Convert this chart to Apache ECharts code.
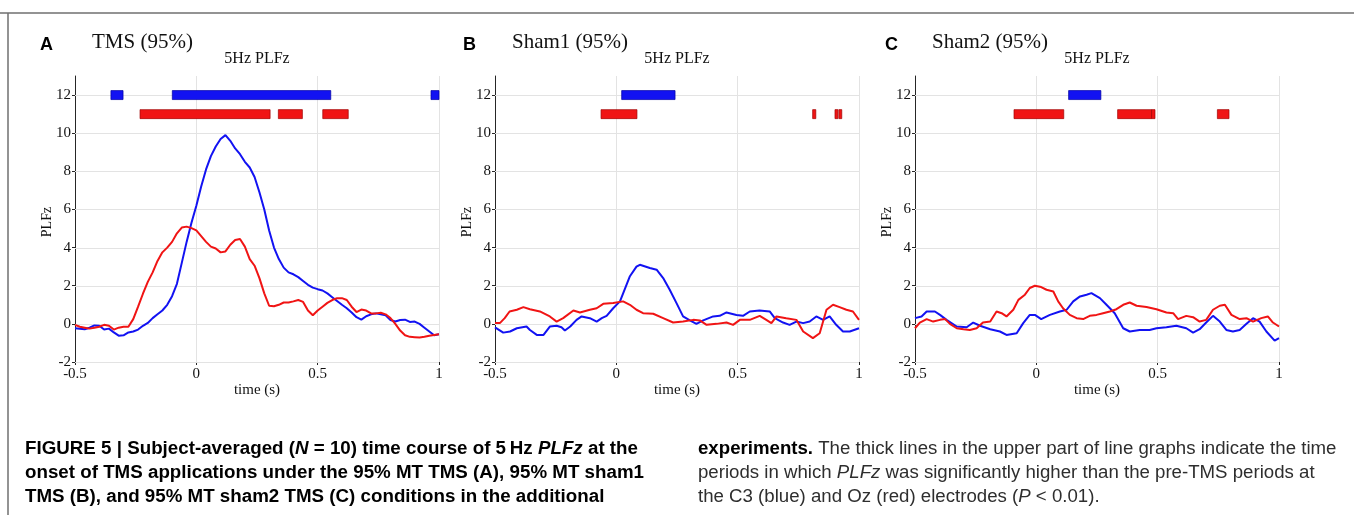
<!DOCTYPE html>
<html>
<head>
<meta charset="utf-8">
<title>5Hz PLFz time course</title>
<script src="https://cdn.jsdelivr.net/npm/echarts@6/dist/echarts.min.js"></script>
<style>
  html, body { margin: 0; padding: 0; background: #fff; }
  #chart { width: 1354px; height: 515px; }
</style>
</head>
<body>
<div id="chart"></div>
<script>
// ---- Data -------------------------------------------------------------
// Shared time axis (s) for the TMS panel
const timeTMS = [-0.5,-0.48,-0.46,-0.44,-0.42,-0.4,-0.38,-0.36,-0.34,-0.32,
  -0.3,-0.28,-0.26,-0.24,-0.22,-0.2,-0.18,-0.16,-0.14,-0.12,
  -0.1,-0.08,-0.06,-0.04,-0.02,0,0.02,0.04,0.06,0.08,
  0.1,0.12,0.14,0.16,0.18,0.2,0.22,0.24,0.26,0.28,
  0.3,0.32,0.34,0.36,0.38,0.4,0.42,0.44,0.46,0.48,
  0.5,0.52,0.54,0.56,0.58,0.6,0.62,0.64,0.66,0.68,
  0.7,0.72,0.74,0.76,0.78,0.8,0.82,0.84,0.86,0.88,
  0.9,0.92,0.94,0.96,0.98,1];

// TMS (95%): PLFz at C3 (blue) and Oz (red)
const tmsC3 = [-0.23,-0.25,-0.28,-0.2,-0.08,-0.1,-0.3,-0.25,-0.45,-0.62,
  -0.6,-0.45,-0.4,-0.3,-0.1,0.05,0.3,0.5,0.7,1.0,
  1.45,2.1,3.2,4.3,5.3,6.2,7.2,8.1,8.8,9.3,
  9.7,9.9,9.6,9.2,8.9,8.5,8.2,7.7,6.9,6.0,
  4.9,4.0,3.4,2.95,2.7,2.6,2.45,2.25,2.05,1.9,
  1.82,1.75,1.6,1.4,1.2,1.0,0.82,0.6,0.35,0.22,
  0.4,0.5,0.55,0.5,0.45,0.2,0.12,0.2,0.22,0.1,
  0.12,0.0,-0.2,-0.4,-0.6,-0.55];
const tmsOz = [-0.05,-0.15,-0.2,-0.25,-0.2,-0.15,-0.05,-0.1,-0.3,-0.2,
  -0.15,-0.15,0.25,0.9,1.58,2.2,2.7,3.3,3.75,4.0,
  4.3,4.75,5.05,5.1,5.02,4.9,4.6,4.3,4.05,3.95,
  3.75,3.8,4.15,4.4,4.45,4.05,3.4,3.05,2.4,1.6,
  0.95,0.92,1.0,1.12,1.12,1.18,1.25,1.15,0.7,0.45,
  0.7,0.9,1.1,1.25,1.35,1.35,1.25,0.9,0.62,0.75,
  0.7,0.55,0.55,0.58,0.5,0.3,0.0,-0.35,-0.6,-0.68,
  -0.7,-0.72,-0.68,-0.62,-0.58,-0.55];

// Sham1 (95%): [time, PLFz]
const sham1C3 = [[-0.5,-0.18],[-0.466,-0.46],[-0.438,-0.4],[-0.41,-0.23],[-0.37,-0.14],[-0.356,-0.32],
  [-0.328,-0.58],[-0.3,-0.58],[-0.274,-0.14],[-0.246,-0.1],[-0.226,-0.18],[-0.212,-0.35],[-0.19,-0.14],
  [-0.164,0.21],[-0.143,0.39],[-0.109,0.3],[-0.081,0.12],[-0.06,0.3],[-0.04,0.42],[-0.013,0.82],
  [0.015,1.18],[0.028,1.6],[0.056,2.5],[0.083,3.0],[0.097,3.1],[0.138,2.93],[0.166,2.84],[0.193,2.4],
  [0.22,1.79],[0.248,1.09],[0.275,0.39],[0.303,0.18],[0.33,0],[0.358,0.18],[0.399,0.39],[0.426,0.42],
  [0.454,0.6],[0.495,0.47],[0.522,0.42],[0.55,0.65],[0.59,0.7],[0.632,0.65],[0.653,0.3],[0.687,0.07],
  [0.714,-0.05],[0.742,0.12],[0.77,0.04],[0.797,0.12],[0.824,0.39],[0.852,0.21],[0.879,0.39],
  [0.906,-0.05],[0.934,-0.4],[0.962,-0.4],[1.0,-0.23]];
const sham1Oz = [[-0.5,0.04],[-0.48,0.04],[-0.46,0.3],[-0.44,0.65],[-0.41,0.74],[-0.383,0.88],[-0.356,0.77],
  [-0.315,0.65],[-0.274,0.39],[-0.246,0.12],[-0.219,0.3],[-0.177,0.7],[-0.15,0.6],[-0.109,0.74],
  [-0.081,0.82],[-0.054,1.05],[-0.013,1.09],[0.028,1.18],[0.056,1.0],[0.083,0.74],[0.11,0.56],
  [0.152,0.53],[0.193,0.3],[0.234,0.07],[0.275,0.12],[0.317,0.21],[0.344,0.18],[0.372,-0.05],
  [0.413,0],[0.454,0.07],[0.481,-0.05],[0.509,0.21],[0.55,0.21],[0.591,0.42],[0.618,0.21],[0.639,0.04],
  [0.66,0.39],[0.7,0.3],[0.742,0.21],[0.77,-0.4],[0.81,-0.75],[0.838,-0.49],[0.866,0.74],[0.893,1.0],
  [0.92,0.88],[0.948,0.74],[0.975,0.65],[1.0,0.21]];

// Sham2 (95%): [time, PLFz]
const sham2C3 = [[-0.5,0.3],[-0.473,0.39],[-0.452,0.65],[-0.418,0.65],[-0.397,0.47],[-0.37,0.21],
  [-0.328,-0.14],[-0.287,-0.18],[-0.26,0.07],[-0.232,-0.1],[-0.19,-0.28],[-0.15,-0.4],[-0.123,-0.58],
  [-0.081,-0.49],[-0.054,0.04],[-0.027,0.47],[-0.006,0.47],[0.02,0.25],[0.056,0.47],[0.097,0.65],
  [0.125,0.74],[0.152,1.18],[0.18,1.44],[0.207,1.53],[0.227,1.61],[0.262,1.35],[0.289,1.0],[0.323,0.56],
  [0.358,-0.23],[0.385,-0.4],[0.426,-0.32],[0.467,-0.32],[0.495,-0.23],[0.536,-0.18],[0.577,-0.1],
  [0.618,-0.23],[0.646,-0.46],[0.673,-0.28],[0.7,0.07],[0.728,0.42],[0.756,0.12],[0.783,-0.32],
  [0.81,-0.4],[0.838,-0.32],[0.866,0],[0.893,0.3],[0.92,0.12],[0.948,-0.4],[0.982,-0.88],[1.0,-0.75]];
const sham2Oz = [[-0.5,-0.23],[-0.48,0.07],[-0.452,0.25],[-0.425,0.12],[-0.397,0.21],[-0.376,0.25],
  [-0.356,0],[-0.328,-0.23],[-0.3,-0.28],[-0.274,-0.32],[-0.246,-0.23],[-0.22,0.07],[-0.19,0.12],
  [-0.164,0.65],[-0.143,0.56],[-0.123,0.39],[-0.095,0.74],[-0.074,1.26],[-0.047,1.53],[-0.027,1.88],
  [-0.006,2.0],[0.02,1.93],[0.042,1.79],[0.07,1.7],[0.09,1.18],[0.11,0.82],[0.138,0.47],[0.166,0.3],
  [0.193,0.25],[0.22,0.42],[0.248,0.47],[0.275,0.56],[0.303,0.65],[0.33,0.77],[0.358,1.0],[0.385,1.12],
  [0.413,0.95],[0.454,0.88],[0.495,0.77],[0.536,0.6],[0.564,0.56],[0.584,0.25],[0.618,0.42],
  [0.646,0.35],[0.673,0.12],[0.7,0.21],[0.728,0.74],[0.756,0.95],[0.777,1.0],[0.804,0.47],[0.838,0.25],
  [0.866,0.3],[0.893,0.12],[0.927,0.3],[0.954,0.39],[0.975,0.07],[1.0,-0.14]];

// Significant periods [start, end] (s): C3 drawn at PLFz = 12, Oz at PLFz = 11
const sigTMS_C3 = [[-0.352,-0.302],[-0.099,0.554],[0.967,1.0]];
const sigTMS_Oz = [[-0.232,0.304],[0.338,0.437],[0.521,0.626]];
const sigSham1_C3 = [[0.022,0.242]];
const sigSham1_Oz = [[-0.063,0.085],[0.809,0.822],[0.901,0.913],[0.917,0.929]];
const sigSham2_C3 = [[0.133,0.266]];
const sigSham2_Oz = [[-0.092,0.113],[0.335,0.475],[0.475,0.489],[0.746,0.794]];
const levelC3 = 12;
const levelOz = 11;

// Axis ticks
const yTicks = [-2, 0, 2, 4, 6, 8, 10, 12];
const xTicksStep = 0.5;

// Panel labels
const panelLetters = ['A', 'B', 'C'];
const panelTitles = ['TMS (95%)', 'Sham1 (95%)', 'Sham2 (95%)'];
const panelSubtitle = '5Hz PLFz';
const yName = 'PLFz';
const xName = 'time (s)';

// Caption lines: segments with [text, bold, italic]
const captionLeft = [
  [['FIGURE 5 | Subject-averaged (', 1, 0], ['N', 1, 1], [' = 10) time course of 5\u2009Hz ', 1, 0], ['PLFz', 1, 1], [' at the', 1, 0]],
  [['onset of TMS applications under the 95% MT TMS (A), 95% MT sham1', 1, 0]],
  [['TMS (B), and 95% MT sham2 TMS (C) conditions in the additional', 1, 0]]
];
const captionRight = [
  [['experiments.', 1, 0], [' The thick lines in the upper part of line graphs indicate the time', 0, 0]],
  [['periods in which ', 0, 0], ['PLFz', 0, 1], [' was significantly higher than the pre-TMS periods at', 0, 0]],
  [['the C3 (blue) and Oz (red) electrodes (', 0, 0], ['P', 0, 1], [' < 0.01).', 0, 0]]
];

// ---- Layout -----------------------------------------------------------
const gridLefts = [75, 495, 915];
const gridTop = 76, gridW = 364, gridH = 286;
const BLUE = '#1212f2', RED = '#f01414';
const GRID_COLOR = '#e3e3e3', AXIS_COLOR = '#262626';
const SERIF = "'Liberation Serif', 'Times New Roman', serif";
const SANS = "'Liberation Sans', Arial, Helvetica, sans-serif";

const panels = [
  { line: [timeTMS.map((t, i) => [t, tmsC3[i]]), timeTMS.map((t, i) => [t, tmsOz[i]])], sig: [sigTMS_C3, sigTMS_Oz] },
  { line: [sham1C3, sham1Oz], sig: [sigSham1_C3, sigSham1_Oz] },
  { line: [sham2C3, sham2Oz], sig: [sigSham2_C3, sigSham2_Oz] }
];

const chart = echarts.init(document.getElementById('chart'), null, { renderer: 'canvas' });

const grids = [], xAxes = [], yAxes = [], series = [], graphics = [];

panels.forEach((p, i) => {
  grids.push({ left: gridLefts[i], top: gridTop, width: gridW, height: gridH, outerBoundsMode: 'none', containLabel: false });
  xAxes.push({
    gridIndex: i, type: 'value', min: -0.5, max: 1, interval: xTicksStep,
    axisLine: { show: true, onZero: false, lineStyle: { color: AXIS_COLOR, width: 1 } },
    axisTick: { show: true, inside: false, length: 3, lineStyle: { color: AXIS_COLOR } },
    axisLabel: { color: '#111', fontFamily: SERIF, fontSize: 15, margin: 5 },
    splitLine: { show: true, lineStyle: { color: GRID_COLOR, width: 1 } }
  });
  yAxes.push({
    gridIndex: i, type: 'value', min: -2, max: 13, interval: 2,
    axisLine: { show: true, onZero: false, lineStyle: { color: AXIS_COLOR, width: 1 } },
    axisTick: { show: true, inside: false, length: 3, customValues: yTicks, lineStyle: { color: AXIS_COLOR } },
    axisLabel: { color: '#111', fontFamily: SERIF, fontSize: 15, margin: 4, customValues: yTicks },
    splitLine: { show: false }
  });

  // Horizontal grid lines at the labelled ticks only
  series.push({
    type: 'custom', xAxisIndex: i, yAxisIndex: i, z: 1, silent: true,
    data: yTicks.map(v => [0, v]),
    renderItem: (params, api) => {
      const cs = params.coordSys;
      const y = Math.round(api.coord([0, api.value(1)])[1]) + 0.5;
      return { type: 'line', shape: { x1: cs.x, y1: y, x2: cs.x + cs.width, y2: y },
        style: { stroke: GRID_COLOR, lineWidth: 1 } };
    }
  });

  // Significance bars
  [[p.sig[0], levelC3, BLUE, '#0000a0'], [p.sig[1], levelOz, RED, '#a00000']].forEach(([arr, level, fill, edge]) => {
    series.push({
      type: 'custom', xAxisIndex: i, yAxisIndex: i, z: 3, silent: true,
      data: arr.map(seg => [seg[0], seg[1], level]),
      encode: { x: [0, 1], y: 2 },
      renderItem: (params, api) => {
        const a = api.coord([api.value(0), api.value(2)]);
        const b = api.coord([api.value(1), api.value(2)]);
        return { type: 'rect', shape: { x: a[0], y: a[1] - 4.5, width: b[0] - a[0], height: 9 },
          style: { fill: fill, stroke: edge, lineWidth: 0.7 } };
      }
    });
  });

  // PLFz curves: C3 (blue) then Oz (red)
  [[p.line[0], BLUE], [p.line[1], RED]].forEach(([data, color]) => {
    series.push({
      type: 'line', xAxisIndex: i, yAxisIndex: i, z: 2, silent: true,
      data: data, showSymbol: false, symbol: 'none', clip: true,
      lineStyle: { color: color, width: 2 }
    });
  });

  const cx = gridLefts[i] + gridW / 2;
  const letterX = [40, 463, 885][i];
  const titleX = [92, 512, 932][i];
  graphics.push(
    { type: 'text', x: letterX, y: 45, style: { text: panelLetters[i], fontFamily: SANS, fontWeight: 'bold', fontSize: 18, fill: '#000', verticalAlign: 'middle', align: 'left' } },
    { type: 'text', x: titleX, y: 42, style: { text: panelTitles[i], fontFamily: SERIF, fontSize: 21, fill: '#111', verticalAlign: 'middle', align: 'left' } },
    { type: 'text', x: cx, y: 59, style: { text: panelSubtitle, fontFamily: SERIF, fontSize: 16, fill: '#111', verticalAlign: 'middle', align: 'center' } },
    { type: 'text', x: gridLefts[i] - 28, y: gridTop + gridH / 2 + 3, rotation: Math.PI / 2,
      style: { text: yName, fontFamily: SERIF, fontSize: 14, fill: '#111', verticalAlign: 'middle', align: 'center' } },
    { type: 'text', x: cx, y: 390, style: { text: xName, fontFamily: SERIF, fontSize: 15, fill: '#111', verticalAlign: 'middle', align: 'center' } }
  );
});

// Frame lines (top and left)
graphics.push(
  { type: 'line', shape: { x1: 0, y1: 13, x2: 1354, y2: 13 }, style: { stroke: '#6f6f6f', lineWidth: 1.5 } },
  { type: 'line', shape: { x1: 8, y1: 13, x2: 8, y2: 515 }, style: { stroke: '#6f6f6f', lineWidth: 1.5 } }
);

// Caption: condensed by horizontal scaling of a regular face
const measureCtx = document.createElement('canvas').getContext('2d');
const CAP_SIZE = 17.5;
function segFont(seg) {
  return (seg[2] ? 'italic ' : '') + (seg[1] ? 'bold ' : '') + CAP_SIZE + 'px ' + SANS;
}
function lineWidth(line) {
  return line.reduce((w, seg) => { measureCtx.font = segFont(seg); return w + measureCtx.measureText(seg[0]).width; }, 0);
}
function captionBlock(lines, x, fitWidths, color) {
  const scales = fitWidths.map((w, k) => w / lineWidth(lines[k]));
  const sx = scales.reduce((a, b) => a + b, 0) / scales.length;
  const ys = [449, 473, 497];
  lines.forEach((line, k) => {
    const rich = {};
    let text = '';
    line.forEach((seg, j) => {
      rich['s' + j] = { fontFamily: SANS, fontSize: CAP_SIZE, fontWeight: seg[1] ? 'bold' : 'normal',
        fontStyle: seg[2] ? 'italic' : 'normal', fill: seg[1] ? '#000' : color };
      text += '{s' + j + '|' + seg[0] + '}';
    });
    graphics.push({ type: 'text', x: x, y: ys[k], scaleX: sx, scaleY: 1,
      style: { text: text, rich: rich, verticalAlign: 'middle', align: 'left' } });
  });
}
captionBlock(captionLeft, 25, [610, 622], '#000');
captionBlock(captionRight, 698, [637, 618], '#2e2e2e');

chart.setOption({
  animation: false,
  backgroundColor: '#fff',
  grid: grids,
  xAxis: xAxes,
  yAxis: yAxes,
  series: series,
  graphic: graphics
});
</script>
</body>
</html>
